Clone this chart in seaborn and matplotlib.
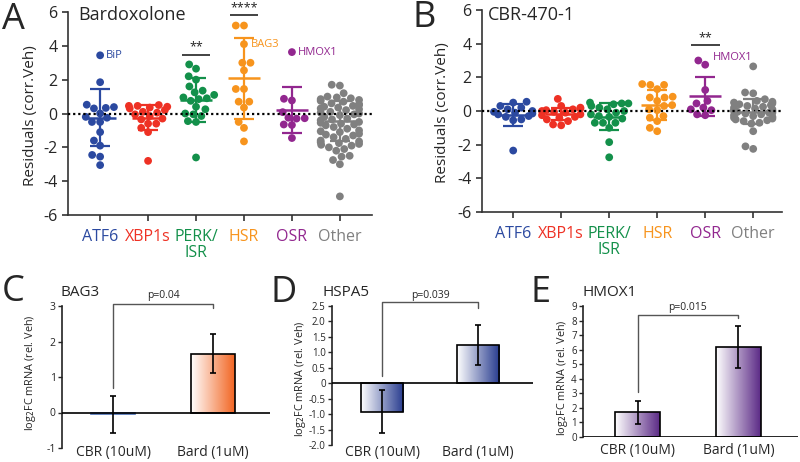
import numpy as np
import pandas as pd
import matplotlib.pyplot as plt
import seaborn as sns
from matplotlib.colors import LinearSegmentedColormap

sns.set_style("ticks")
plt.rcParams["font.family"] = ["Open Sans", "DejaVu Sans"]
plt.rcParams["axes.unicode_minus"] = False

W, H = 800, 462

# --- residual panels (A, B) ---
groups = ["ATF6", "XBP1s", "PERK/\nISR", "HSR", "OSR", "Other"]
group_colors = ["#2b49a0", "#ee3124", "#13904a", "#f7941d", "#92278f", "#808080"]

a_atf6 = [3.44, 1.85, 0.52, 0.38, 0.33, 0.30, 0.0, -0.2, -0.25, -0.5, -0.5, -1.1, -1.6, -1.9, -2.45, -2.55, -3.05]
a_xbp1s = [0.5, 0.45, 0.45, 0.4, 0.35, 0.3, 0.2, 0.1, 0.05, -0.05, -0.15, -0.3, -0.35, -0.6, -0.6, -0.85, -1.1, -2.8]
a_perk = [2.9, 2.65, 2.2, 2.0, 1.6, 1.35, 1.25, 1.1, 0.95, 0.9, 0.85, 0.75, 0.4, 0.25, 0.0, -0.05, -0.15, -0.45, -0.5, -2.6]
a_hsr = [5.2, 5.2, 4.1, 3.0, 3.0, 2.55, 1.45, 1.45, 0.7, 0.7, 0.35, -0.5, -0.85, -1.65]
a_osr = [3.63, 0.87, 0.77, 0.08, -0.25, -0.28, -0.3, -0.65, -0.68, -1.45]
a_other = [1.7, 1.65, 1.2, 1.0, 0.95, 0.9, 0.85, 0.8, 0.75, 0.7, 0.6, 0.55, 0.5, 0.45, 0.4,
           0.35, 0.3, 0.25, 0.2, 0.1, 0.05, 0.0, -0.05, -0.1, -0.2, -0.3, -0.35, -0.4, -0.5,
           -0.55, -0.6, -0.65, -0.7, -0.8, -0.9, -1.0, -1.05, -1.1, -1.2, -1.25, -1.3, -1.4,
           -1.5, -1.6, -1.65, -1.7, -1.75, -1.8, -1.85, -1.9, -2.0, -2.1, -2.2, -2.5, -2.55,
           -2.75, -3.0, -4.9]
a_means = [-0.24, -0.24, 0.79, 2.07, 0.2, -0.45]
a_sds = [1.66, 0.72, 1.28, 2.4, 1.38, 1.2]

b_atf6 = [0.55, 0.5, 0.3, 0.2, 0.1, 0.0, -0.05, -0.1, -0.15, -0.2, -0.3, -0.35, -0.5, -0.55, -2.35]
b_xbp1s = [0.72, 0.3, 0.2, 0.15, 0.1, 0.05, 0.0, -0.05, -0.1, -0.2, -0.25, -0.35, -0.4, -0.5, -0.6, -0.8, -0.85]
b_perk = [0.5, 0.45, 0.45, 0.4, 0.3, 0.2, 0.1, 0.0, -0.1, -0.2, -0.3, -0.35, -0.45, -0.7, -0.7, -0.7, -1.0, -1.85, -2.75]
b_hsr = [1.6, 1.55, 1.55, 1.3, 0.85, 0.8, 0.8, 0.6, 0.35, 0.3, 0.1, 0.05, -0.3, -0.4, -0.6, -1.0, -1.2]
b_osr = [3.0, 2.75, 1.25, 0.6, 0.45, 0.2, 0.1, 0.05, -0.2, -0.25]
b_other = [2.65, 1.1, 1.05, 0.7, 0.6, 0.55, 0.5, 0.45, 0.4, 0.35, 0.3, 0.25, 0.2, 0.15, 0.1,
           0.05, 0.0, 0.0, -0.05, -0.1, -0.1, -0.15, -0.2, -0.25, -0.3, -0.35, -0.4, -0.45,
           -0.5, -0.55, -0.6, -0.7, -0.75, -1.2, -2.1, -2.25]
b_means = [-0.22, -0.2, -0.33, 0.35, 0.87, -0.05]
b_sds = [0.66, 0.35, 0.82, 0.87, 1.15, 0.75]

# --- qPCR panels (C, D, E) ---
bar_labels = ["CBR (10uM)", "Bard (1uM)"]
bag3_fc = [-0.05, 1.65]
bag3_err = [0.52, 0.55]
hspa5_fc = [-0.92, 1.25]
hspa5_err = [0.70, 0.65]
hmox1_fc = [1.7, 6.2]
hmox1_err = [0.8, 1.43]


def box(left, top, right, bottom):
    return [left / W, 1 - bottom / H, (right - left) / W, (bottom - top) / H]


def swarm_panel(ax, values, means, sds, xlim):
    df = pd.DataFrame({
        "group": np.repeat(groups, [len(v) for v in values]),
        "value": np.concatenate(values),
    })
    sns.swarmplot(data=df, x="group", y="value", hue="group", order=groups,
                  hue_order=groups, palette=group_colors, size=5.6, legend=False,
                  ax=ax, zorder=2, warn_thresh=1)
    ax.axhline(0, color="black", ls=(0, (1, 1.3)), lw=1.6, zorder=3)
    for i, (m, s, c) in enumerate(zip(means, sds, group_colors)):
        ax.hlines(m, i - 0.33, i + 0.33, color=c, lw=1.8, zorder=4)
        ax.errorbar(i, m, yerr=s, color=c, lw=1.6, capsize=7, capthick=1.6, zorder=4)
    ax.set_xlim(*xlim)
    ax.set_ylim(-6, 6)
    ax.set_yticks(range(-6, 7, 2))
    ax.set_yticklabels([str(v) for v in range(-6, 7, 2)])
    ax.set_xlabel("")
    ax.set_ylabel("Residuals (corr.Veh)", fontsize=11)
    ax.tick_params(axis="y", labelsize=11.5, length=4, width=1.2, color="#333333")
    ax.tick_params(axis="x", labelsize=11.5, length=4, width=1.2, color="#333333", pad=6)
    for lbl, c in zip(ax.get_xticklabels(), group_colors):
        lbl.set_color(c)
        lbl.set_linespacing(1.05)
    sns.despine(ax=ax)
    for sp in ("left", "bottom"):
        ax.spines[sp].set_color("#333333")
        ax.spines[sp].set_linewidth(1.2)


def sig_bar(ax, x, y, stars):
    ax.hlines(y, x - 0.3, x + 0.3, color="#222222", lw=1.2, clip_on=False)
    ax.text(x, y + 0.05, stars, ha="center", va="bottom", fontsize=9, color="#222222", clip_on=False)


def bar_panel(ax, values, errs, color, xlim, ylim, yticks, yticklabels, ytick_size, xpad):
    sns.barplot(x=bar_labels, y=values, width=0.44, errorbar=None, color="white", ax=ax)
    cmap = LinearSegmentedColormap.from_list("grad", ["white", color])
    grad = np.linspace(0, 1, 256).reshape(1, -1)
    for p in ax.patches:
        x0, w = p.get_x(), p.get_width()
        y0, h = p.get_y(), p.get_height()
        im = ax.imshow(grad, cmap=cmap, extent=[x0, x0 + w, min(y0, y0 + h), max(y0, y0 + h)],
                       aspect="auto", zorder=1, interpolation="bicubic")
        im.set_clip_path(p)
        p.set_facecolor("none")
        p.set_edgecolor("black")
        p.set_linewidth(1.2)
        p.set_zorder(2)
    ax.errorbar(range(len(values)), values, yerr=errs, fmt="none", ecolor="black",
                elinewidth=1.2, capsize=2.5, capthick=1.2, zorder=5)
    ax.axhline(0, color="black", lw=1.2, zorder=3)
    ax.set_xlim(*xlim)
    ax.set_ylim(*ylim)
    ax.set_yticks(yticks)
    ax.set_yticklabels(yticklabels)
    ax.set_ylabel(r"log$_2$FC mRNA (rel. Veh)", fontsize=7.8)
    ax.tick_params(axis="y", labelsize=ytick_size, length=3, width=1, pad=1.5)
    ax.tick_params(axis="x", labelsize=10, length=0, pad=xpad)
    sns.despine(ax=ax, bottom=True)
    ax.spines["left"].set_linewidth(1.2)
    ax.spines["left"].set_color("#222222")


def bracket(ax, y_left, y_top, y_right, text, dy):
    ax.plot([0, 0, 1, 1], [y_left, y_top, y_top, y_right], color="#555555", lw=1, clip_on=False)
    ax.text(0.5, y_top + dy, text, ha="center", va="bottom", fontsize=7.5, clip_on=False)


fig = plt.figure(figsize=(W / 100, H / 100), dpi=100)

# A
ax_a = fig.add_axes(box(68, 12, 372, 215))
swarm_panel(ax_a, [a_atf6, a_xbp1s, a_perk, a_hsr, a_osr, a_other], a_means, a_sds, (-0.67, 5.67))
ax_a.yaxis.set_label_coords(-0.1, 0.49)
sig_bar(ax_a, 2, 3.48, "**")
sig_bar(ax_a, 3, 5.8, "****")
ax_a.text(0.12, 3.44, "BiP", color=group_colors[0], fontsize=8, va="center")
ax_a.text(3.15, 4.1, "BAG3", color=group_colors[3], fontsize=8, va="center")
ax_a.text(4.12, 3.63, "HMOX1", color=group_colors[4], fontsize=8, va="center")
fig.text(78 / W, 1 - 15 / H, "Bardoxolone", fontsize=13, va="center")
fig.text(2 / W, 1 - 20 / H, "A", fontsize=26, va="center")

# B
ax_b = fig.add_axes(box(482, 10, 782, 212))
swarm_panel(ax_b, [b_atf6, b_xbp1s, b_perk, b_hsr, b_osr, b_other], b_means, b_sds, (-0.65, 5.6))
ax_b.yaxis.set_label_coords(-0.107, 0.49)
sig_bar(ax_b, 4, 3.94, "**")
ax_b.text(4.17, 3.15, "HMOX1", color=group_colors[4], fontsize=8, va="center")
fig.text(488 / W, 1 - 15 / H, "CBR-470-1", fontsize=13, va="center")
fig.text(413 / W, 1 - 18 / H, "B", fontsize=26, va="center")

# C
ax_c = fig.add_axes(box(62, 306, 270, 448))
bar_panel(ax_c, bag3_fc, bag3_err, "#f26522", (-0.51, 1.57), (-1, 3), range(-1, 4),
          [str(v) for v in range(-1, 4)], 7.5, -2)
ax_c.patches[0].set_edgecolor("#4a6fb5")
ax_c.yaxis.set_label_coords(-0.115, 0.53)
bracket(ax_c, 0.68, 3.07, 2.93, "p=0.04", 0.08)
fig.text(61 / W, 1 - 293 / H, "BAG3", fontsize=11, va="center")
fig.text(2 / W, 1 - 292 / H, "C", fontsize=26, va="center")

# D
ax_d = fig.add_axes(box(332, 306, 533, 445))
d_ticks = [-2.0, -1.5, -1.0, -0.5, 0, 0.5, 1.0, 1.5, 2.0, 2.5]
bar_panel(ax_d, hspa5_fc, hspa5_err, "#263a8e", (-0.52, 1.57), (-2.0, 2.5), d_ticks,
          ["0" if v == 0 else f"{v:.1f}" for v in d_ticks], 7, 0)
ax_d.yaxis.set_label_coords(-0.12, 0.48)
bracket(ax_d, 0.23, 2.62, 2.45, "p=0.039", 0.05)
fig.text(322 / W, 1 - 293 / H, "HSPA5", fontsize=11, va="center")
fig.text(270 / W, 1 - 293 / H, "D", fontsize=26, va="center")

# E
ax_e = fig.add_axes(box(583, 306, 798, 437))
bar_panel(ax_e, hmox1_fc, hmox1_err, "#5b2a86", (-0.54, 1.59), (0, 9), range(0, 10),
          [str(v) for v in range(0, 10)], 7, 4.5)
ax_e.yaxis.set_label_coords(-0.06, 0.45)
bracket(ax_e, 3.08, 8.36, 8.15, "p=0.015", 0.15)
fig.text(583 / W, 1 - 293 / H, "HMOX1", fontsize=11, va="center")
fig.text(531 / W, 1 - 293 / H, "E", fontsize=26, va="center")

fig.savefig("out.png", dpi=100)
